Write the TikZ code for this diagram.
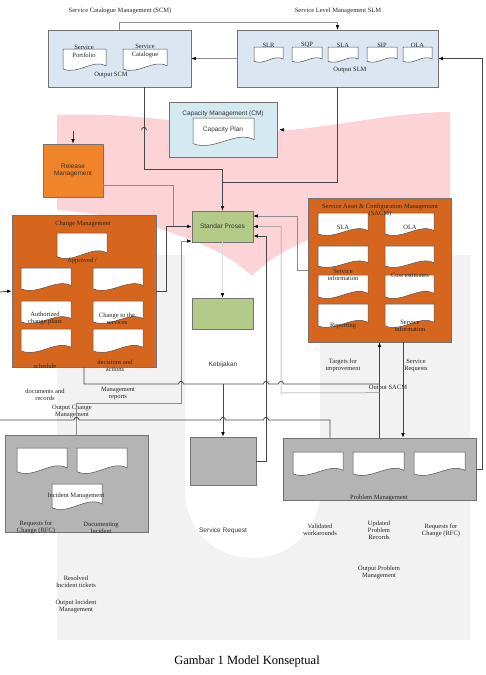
\documentclass[tikz,border=0pt]{standalone}
\usepackage{fontspec}
\setmainfont{Liberation Serif}
\newfontfamily\arialfont{Liberation Sans}
\usetikzlibrary{arrows.meta}

\definecolor{slmblue}{RGB}{220,230,242}
\definecolor{cmcyan}{RGB}{212,234,240}
\definecolor{chgorange}{RGB}{214,102,30}
\definecolor{relorange}{RGB}{240,132,42}
\definecolor{spgreen}{RGB}{180,202,136}
\definecolor{boxgrey}{RGB}{180,180,180}
\definecolor{wmpink}{RGB}{252,212,216}
\definecolor{wmgrey}{RGB}{242,242,242}
\definecolor{wirecol}{RGB}{70,70,70}

\tikzset{
  box/.style={draw=black!55, line width=0.6pt, inner sep=0pt},
  lbl/.style={font=\fontsize{6.5}{7}\selectfont, align=center, inner sep=0pt, text=black!85},
  albl/.style={font=\arialfont\fontsize{6.5}{7.5}\selectfont, align=center, inner sep=0pt, text=black!80},
  docfill/.style={fill=white, draw=black!70, line width=0.5pt},
  wire/.style={draw=wirecol, line width=0.8pt},
  faint/.style={draw=black!45, line width=0.5pt},
  arr/.style={-{Latex[length=4.5pt,width=3.5pt,color=black]}},
}

% document sheet with a wavy lower edge: x1 y1 x2 y2
\newcommand{\docsheet}[4]{%
  \filldraw[docfill] (#1,#2) -- (#3,#2) -- (#3,{#4-0.2*(#4-#2)})
    .. controls ({#1+0.7*(#3-#1)},{#4-0.55*(#4-#2)}) and ({#1+0.35*(#3-#1)},{#4+0.25*(#4-#2)})
    .. (#1,{#4-0.05*(#4-#2)}) -- cycle;}
% line hop over a crossing wire
\newcommand{\hop}[2]{-- ({#1-2.5},#2) .. controls ({#1-2.5},{#2-3.5}) and ({#1+2.5},{#2-3.5}) .. ({#1+2.5},#2)}

\begin{document}
\begin{tikzpicture}[x=1pt,y=-1pt]
\useasboundingbox (0,0) rectangle (486,675);

% watermark
\fill[wmgrey, even odd rule] (57,255) rectangle (470,640)
  (185,255) -- (185,490) .. controls (185,530) and (215,558) .. (252,558)
  .. controls (290,558) and (320,530) .. (320,490) -- (320,255) -- cycle;
\fill[wmpink] (57,115) .. controls (170,111) and (230,136) .. (290,130)
  .. controls (350,124) and (400,112) .. (450,112) -- (450,205)
  .. controls (380,215) and (290,235) .. (252,276)
  .. controls (215,240) and (130,215) .. (57,210) -- cycle;

% boxes
\node[box, fill=slmblue, minimum width=143, minimum height=57] (scm) at (119.5,58.5) {};
\node[box, fill=slmblue, minimum width=201, minimum height=57] (slm) at (337.5,58.5) {};
\node[box, fill=cmcyan, minimum width=108, minimum height=55] (cm) at (223,129.5) {};
\node[box, fill=relorange, minimum width=60, minimum height=53, albl] (rm) at (73,170.5) {Release\\Management};
\node[box, fill=chgorange, minimum width=144, minimum height=152] (chg) at (84,291) {};
\node[box, fill=spgreen, minimum width=61, minimum height=31, albl] (sp) at (222.5,226.5) {Standar Proses};
\node[box, fill=spgreen, minimum width=61, minimum height=31] (kb) at (222.5,313.5) {};
\node[box, fill=chgorange, minimum width=143, minimum height=144] (sacm) at (379.5,270) {};
\node[box, fill=boxgrey, minimum width=143, minimum height=97] (im) at (76.5,483.5) {};
\node[box, fill=boxgrey, minimum width=66, minimum height=48] (sr) at (223,461) {};
\node[box, fill=boxgrey, minimum width=193, minimum height=62] (pm) at (379.5,469) {};

% documents
\docsheet{63}{49}{106}{70}
\docsheet{123}{49}{167}{70}
\foreach \xa/\xb in {254/283,292/322,328/358,367/397,403/432}
  {\docsheet{\xa}{47}{\xb}{62}}
\docsheet{193}{118}{254}{145}
\docsheet{57}{233}{107}{258}
\foreach \ya/\yb in {268/290,301/323,329/352}
  {\docsheet{21}{\ya}{71}{\yb}\docsheet{93}{\ya}{143}{\yb}}
\foreach \ya/\yb in {213/235,246/267,275/298,304/327}
  {\docsheet{318}{\ya}{368}{\yb}\docsheet{385}{\ya}{434}{\yb}}
\docsheet{17}{448}{67}{473}
\docsheet{77}{448}{127}{473}
\docsheet{52}{484}{102}{509}
\docsheet{293}{452}{343}{475}
\docsheet{353}{452}{404}{475}
\docsheet{414}{452}{465}{475}

% labels
\node[lbl] (t-scm) at (120,11) {Service Catalogue Management (SCM)};
\node[lbl] (t-slm) at (338,11) {Service Level Management SLM};
\node[lbl, font=\fontsize{6.5}{8}\selectfont] (t-port) at (84,51) {Service\\Portfolio};
\node[lbl, font=\fontsize{6.5}{8}\selectfont] (t-cat) at (145,51) {Service\\Catalogue};
\node[lbl] (t-oscm) at (111,75) {Output SCM};
\foreach \n/\xc in {SLR/268.5,SQP/307,SLA/343,SIP/382,OLA/417.5}
  {\node[lbl] (t-\n) at (\xc,45) {\n};}
\node[lbl] (t-oslm) at (350,70) {Output SLM};
\node[albl] (t-cm) at (223,114) {Capacity Management (CM)};
\node[albl] (t-cp) at (223,130) {Capacity Plan};
\node[lbl] (t-chg) at (83,224) {Change Management};
\node[lbl] (t-appr) at (82,261) {Approved /};
\node[lbl] (t-auth) at (45,318.5) {Authorized\\change plans};
\node[lbl] (t-ctts) at (117,318.5) {Change to the\\services};
\node[lbl] (t-sched) at (45,366) {schedule};
\node[lbl] (t-dec) at (115,365.5) {decisions and\\actions};
\node[lbl] (t-docs) at (45,394.5) {documents and\\records};
\node[lbl] (t-mrep) at (118,394) {Management\\reports};
\node[lbl] (t-ochg) at (72,411.5) {Output Change\\Management};
\node[albl] (t-keb) at (223,365) {Kebijakan};
\node[lbl] (t-sacm) at (380,210.5) {Service Asset \& Configuration Management\\(SACM)};
\node[lbl] (t-sla) at (343,227) {SLA};
\node[lbl] (t-ola) at (410,227) {OLA};
\node[lbl] (t-sinf) at (343,274.5) {Service\\information};
\node[lbl] (t-cost) at (410,275) {Cost estimates};
\node[lbl] (t-rep) at (343,326) {Reporting};
\node[lbl] (t-sinf2) at (410,325.5) {Service\\information};
\node[lbl] (t-targ) at (343,365.5) {Targets for\\improvement};
\node[lbl] (t-sreq) at (416,365.5) {Service\\Requests};
\node[lbl] (t-osacm) at (388,388) {Output SACM};
\node[lbl] (t-im) at (76,496) {Incident Management};
\node[lbl] (t-rfc1) at (36,527.5) {Requests for\\Change (RFC)};
\node[lbl] (t-docinc) at (101,527.5) {Documenting\\Incident};
\node[lbl] (t-res) at (76,581.5) {Resolved\\Incident tickets};
\node[lbl] (t-oim) at (76,606.5) {Output Incident\\Management};
\node[albl] (t-sr) at (223,531) {Service Request};
\node[lbl] (t-pm) at (379,498) {Problem Management};
\node[lbl] (t-val) at (320,530) {Validated\\workarounds};
\node[lbl] (t-upd) at (379,530) {Updated\\Problem\\Records};
\node[lbl] (t-rfc2) at (441,530) {Requests for\\Change (RFC)};
\node[lbl] (t-opm) at (379,572) {Output Problem\\Management};
\node[font=\fontsize{12.5}{14}\selectfont, inner sep=0pt] (t-cap) at (247,661) {Gambar 1 Model Konseptual};

% free ends
\coordinate (cmin) at (285,130);
\coordinate (rmin) at (73,131);
\coordinate (chgin) at (0,292);
\coordinate (pmin) at (0,420);

% connectors
\draw[faint,arr] (scm.north) -- ++(0,-7) -| (slm.north);
\draw[faint,arr] (slm.west) -- (scm.east);
\draw[wire,arr] (pm.east) -- ++(6,0) |- (slm.east);
\draw[wire,arr] ([xshift=24.5pt]scm.south) |- ([yshift=41pt]sp.north) -- (sp.north);
\draw[wire] (141.5,130) .. controls (141.5,126.5) and (146.5,126.5) .. (146.5,130);
\draw[wire] (slm.south) |- ([yshift=28pt]sp.north);
\draw[arr] (cmin) -- ([xshift=2pt]cm.east);
\draw[wire,arr] (rmin) -- (rm.north);
\draw[faint] ([yshift=-14.5pt]rm.east) -| ([xshift=-18pt]sp.west);
\draw[wire,arr] (chgin) -- (chg.west);
\draw[wire,arr] (chg.east) -- ++(10,0) |- (sp.west);
\draw[faint,arr] (im.north) |- (181,403) |- ([yshift=-14.5pt]sp.west);
\draw[wire] (chg.south) -- (84,384) \hop{181}{384} \hop{266}{384} \hop{281}{384} -- (379.5,384);
\draw[wire,arr] (sr.north |- 0,384) -- (sr.north);
\draw[wire] (pmin) \hop{76.5}{420} \hop{223}{420} \hop{266}{420} -- (330,420) -- ([xshift=-49.5pt]pm.north);
\draw[wire,arr] (pm.north) -- (sacm.south);
\draw[faint,arr] ([yshift=45pt]pm.north) -- (281,393) -- (281,226.5) -- (sp.east);
\draw[faint,arr] (sacm.west) -- ++(-10,0) |- ([yshift=10.5pt]sp.east);
\draw[wire,arr] (sr.east) -- ++(10,0) |- ([yshift=-9.5pt]sp.east);
\draw[wire,arr] ([xshift=23.5pt]sacm.south) -- ([xshift=23.5pt]pm.north);
\draw[draw=black!15, line width=0.4pt, arr] (sp.south) -- (kb.north);
\end{tikzpicture}
\end{document}
